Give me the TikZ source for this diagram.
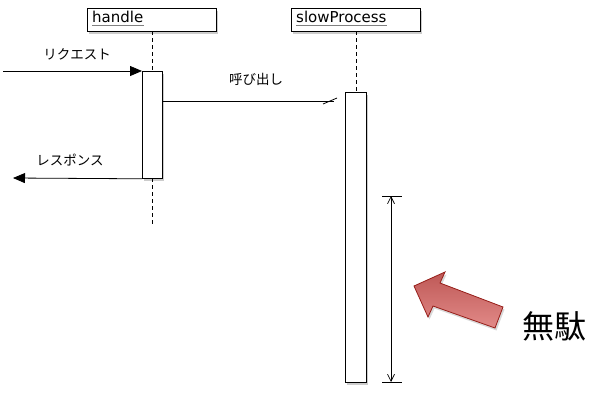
\documentclass[tikz,border=0pt]{standalone}
\usepackage{fontspec}
\setmainfont{DejaVu Sans}
\newfontfamily\jpfont{Noto Sans CJK JP}
\usetikzlibrary{shadows,arrows.meta}
\definecolor{arrowdark}{RGB}{190,88,86}
\definecolor{arrowlight}{RGB}{226,138,136}
\definecolor{arrowedge}{RGB}{150,30,25}
\tikzset{
  objbox/.style={draw=black, fill=white, line width=0.8pt, anchor=north west,
    drop shadow={shadow xshift=1.5pt, shadow yshift=-2.5pt, opacity=0.4}},
  actbox/.style={draw=black, fill=white, line width=0.8pt, anchor=north west,
    drop shadow={shadow xshift=1.5pt, shadow yshift=-2.5pt, opacity=0.4}},
  objlabel/.style={font=\fontsize{15}{17}\selectfont, inner sep=0pt, anchor=base west},
  jplabel/.style={font=\jpfont\fontsize{13.5}{15}\selectfont, inner sep=1pt},
  lifeline/.style={dashed, dash pattern=on 4pt off 3pt, line width=0.8pt},
  msg/.style={line width=0.8pt},
}
\begin{document}
\begin{tikzpicture}[x=1pt,y=-1pt]
\useasboundingbox (0,0) rectangle (589,400);
% objects
\node[objbox, minimum width=129pt, minimum height=23pt] (handle) at (87,8) {};
\node[objlabel] (handleT) at (92,22) {handle};
\draw[gray, line width=0.8pt] ([yshift=-3pt]handleT.base west) -- ([yshift=-3pt]handleT.base east);
\node[objbox, minimum width=129pt, minimum height=23pt] (slow) at (291,8) {};
\node[objlabel] (slowT) at (296,22) {slowProcess};
\draw[gray, line width=0.8pt] ([yshift=-3pt]slowT.base west) -- ([yshift=-3pt]slowT.base east);
% activations
\node[actbox, minimum width=20pt, minimum height=107pt] (act1) at (142,71) {};
\node[actbox, minimum width=21pt, minimum height=290pt] (act2) at (345,92) {};
% lifelines
\coordinate (h1) at (152,31);
\coordinate (h1e) at (152,71);
\coordinate (h2) at (152,178);
\coordinate (h2e) at (152,226);
\draw[lifeline] (h1) -- (h1e);
\draw[lifeline] (h2) -- (h2e);
\coordinate (s1) at (356,31);
\coordinate (s1e) at (356,92);
\draw[lifeline] (s1) -- (s1e);
% request
\coordinate (reqS) at (3,71);
\draw[msg, -{Triangle[length=12pt,width=10pt]}] (reqS) -- (act1.north west);
\node[jplabel] (reqL) at (77,54) {リクエスト};
% response
\coordinate (resE) at (13,178);
\draw[msg, -{Triangle[length=12pt,width=10pt]}] (act1.south west) -- (resE);
\node[jplabel] (resL) at (70,160) {レスポンス};
% call
\coordinate (callS) at (162,101);
\coordinate (callE) at (334,101);
\coordinate (barbA) at (323,104);
\coordinate (barbB) at (337,98);
\draw[msg] (callS) -- (callE);
\draw[msg] (barbA) -- (barbB);
\node[jplabel] (callL) at (256,79) {呼び出し};
% dimension
\coordinate (dT) at (391,196);
\coordinate (dB) at (391,382);
\draw[line width=0.7pt] (382,196) -- (402,196);
\draw[line width=0.7pt] (382,382) -- (402,382);
\draw[line width=0.7pt, {Straight Barb[length=7pt,width=7pt]}-{Straight Barb[length=7pt,width=7pt]}] (dT) -- (dB);
% big arrow
\shade[top color=arrowdark, bottom color=arrowlight, draw=arrowedge, line width=0.8pt,
  drop shadow={shadow xshift=1.5pt, shadow yshift=-2.5pt, opacity=0.3}]
  (414,286) -- (445,272) -- (440,283) -- (503,307) -- (495,328) -- (433,306) -- (428,317) -- cycle;
\node[font=\jpfont\fontsize{32}{36}\selectfont, inner sep=0pt] (muda) at (554,326) {無駄};
\end{tikzpicture}
\end{document}
